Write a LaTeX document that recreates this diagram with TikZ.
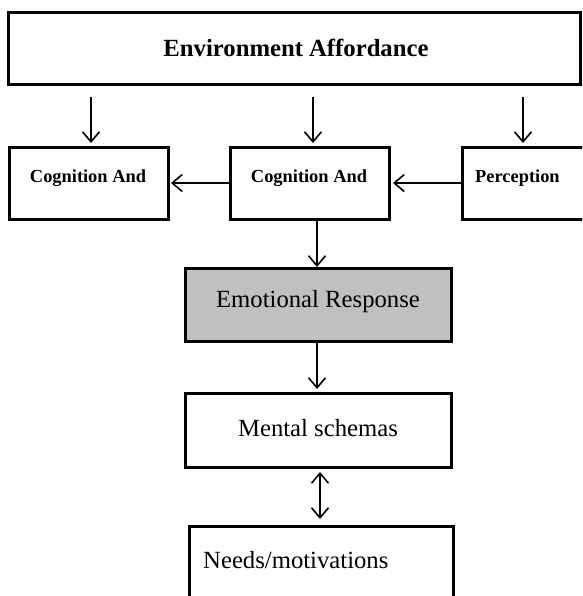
\documentclass[tikz,border=0pt]{standalone}
\usepackage{fontspec}
\setmainfont{Liberation Serif}
\usetikzlibrary{arrows.meta}
\begin{document}
\begin{tikzpicture}[x=1pt,y=-1pt,
  box/.style={draw=black, line width=3pt, fill=white, inner sep=0pt},
  lbl/.style={inner sep=0pt},
  bigb/.style={lbl, font=\fontsize{24.7pt}{28pt}\selectfont\bfseries},
  smallb/.style={lbl, font=\fontsize{18.4pt}{22pt}\selectfont\bfseries},
  big/.style={lbl, font=\fontsize{24.7pt}{28pt}\selectfont},
  arr/.style={draw=black, line width=1.6pt, -{Straight Barb[length=10pt,width=17pt,line width=1.6pt]}},
  darr/.style={draw=black, line width=1.6pt, {Straight Barb[length=10pt,width=17pt,line width=1.6pt]}-{Straight Barb[length=10pt,width=17pt,line width=1.6pt]}}
]
\useasboundingbox (0,0) rectangle (582,596);
\clip (0,0) rectangle (582,596);
\fill[white] (0,0) rectangle (582,596);

% boxes
\node[box, minimum width=572pt, minimum height=72pt] (top) at (294,49) {};
\node[box, minimum width=159pt, minimum height=71pt] (L) at (88.5,183.5) {};
\node[box, minimum width=159pt, minimum height=71pt] (M) at (309.5,183.5) {};
\node[box, minimum width=140pt, minimum height=71pt] (R) at (532,183.5) {};
\node[box, fill={rgb,255:red,192;green,192;blue,192}, minimum width=266pt, minimum height=73pt] (E) at (318,304.5) {};
\node[box, minimum width=266pt, minimum height=74pt] (S) at (318,430) {};
\node[box, minimum width=264pt, minimum height=100pt] (N) at (321,576) {};

% texts
\node[bigb] (ttop) at (296,48) {Environment Affordance};
\node[smallb] (tL) at (88,178) {Cognition And};
\node[smallb] (tM) at (309,178) {Cognition And};
\node[smallb, anchor=west] (tR) at (475,178) {Perception};
\node[big] (tE) at (318,302) {Emotional Response};
\node[big] (tS) at (318,428) {Mental schemas};
\node[big, anchor=west] (tN) at (203,560) {Needs/motivations};

% arrow endpoints
\coordinate (a1s) at (91,97);  \coordinate (a1e) at (91,143);
\coordinate (a2s) at (313,97); \coordinate (a2e) at (313,143);
\coordinate (a3s) at (523,97); \coordinate (a3e) at (523,143);

\draw[arr] (a1s) -- (a1e);
\draw[arr] (a2s) -- (a2e);
\draw[arr] (a3s) -- (a3e);
\draw[arr] (M.west |- 0,183) -- (171,183);
\draw[arr] (R.west |- 0,183) -- (393,183);
\draw[arr] (M.south -| 317,0) -- (317,267);
\draw[arr] (E.south -| 317,0) -- (317,389);
\draw[darr] (320,472) -- (320,519);
\end{tikzpicture}
\end{document}
